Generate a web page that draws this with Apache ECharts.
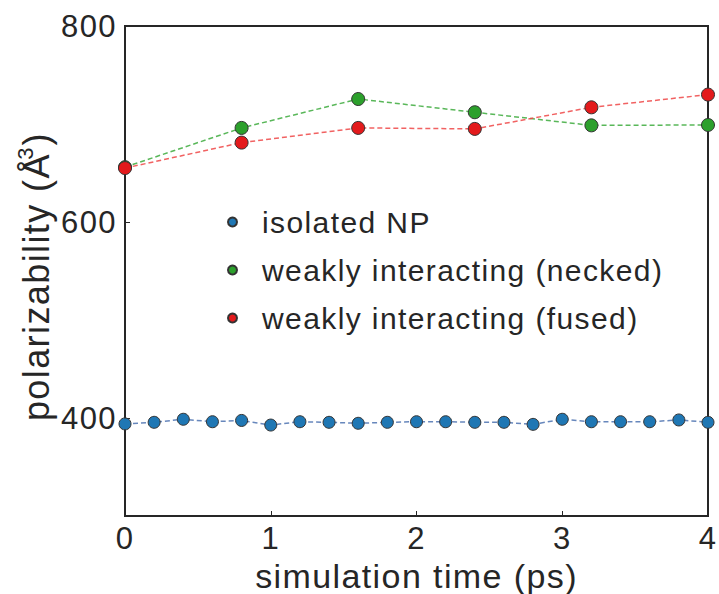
<!DOCTYPE html>
<html>
<head>
<meta charset="utf-8">
<script src="https://cdn.jsdelivr.net/npm/echarts@6/dist/echarts.min.js"></script>
<style>
  html, body { margin: 0; padding: 0; background: #ffffff; }
  #chart { width: 719px; height: 594px; }
  #chart text { letter-spacing: 1.4px; }
</style>
</head>
<body>
<div id="chart"></div>
<script>
// Simulation times (ps)
const timesIsolated = [0, 0.2, 0.4, 0.6, 0.8, 1.0, 1.2, 1.4, 1.6, 1.8, 2.0, 2.2, 2.4, 2.6, 2.8, 3.0, 3.2, 3.4, 3.6, 3.8, 4.0];
const timesPairs = [0, 0.8, 1.6, 2.4, 3.2, 4.0];

// Polarizability (Å^3)
const isolatedNP = [394, 395.6, 398.7, 396.2, 397.5, 392.8, 396.2, 395.6, 394.6, 395.6, 396.2, 396.2, 395.6, 395.6, 393.5, 398.7, 396.2, 396.2, 396.2, 398, 395.6];
const neckedPair = [656, 696, 725.5, 712, 698.6, 699];
const fusedPair = [655, 681, 696, 695, 717, 730];

const seriesNames = ['isolated NP', 'weakly interacting (necked)', 'weakly interacting (fused)'];
const yTicks = [400, 600, 800];

const ink = '#262626';
const font = '"Liberation Sans", Arial, sans-serif';

function pairs(xs, ys) { return xs.map((x, i) => [x, ys[i]]); }

function lineSeries(name, xs, ys, color, lineColor, size) {
  return {
    name: name,
    type: 'line',
    data: pairs(xs, ys),
    symbol: 'circle',
    symbolSize: size,
    itemStyle: { color: color, borderColor: '#333333', borderWidth: 1 },
    lineStyle: { color: lineColor, width: 1.5, type: [5, 3] },
    emphasis: { disabled: true },
    animation: false
  };
}

const chart = echarts.init(document.getElementById('chart'), null, { renderer: 'svg' });
chart.setOption({
  backgroundColor: '#ffffff',
  textStyle: { fontFamily: font },
  grid: {
    left: 125, right: 11, top: 26, bottom: 78,
    outerBoundsMode: 'none',
    show: true, borderColor: ink, borderWidth: 2, backgroundColor: 'transparent'
  },
  legend: {
    data: seriesNames,
    orient: 'vertical',
    left: 227,
    top: 204,
    padding: 0,
    icon: 'circle',
    itemWidth: 9,
    itemHeight: 9,
    itemGap: 12,
    selectedMode: false,
    textStyle: { fontSize: 30, color: ink, fontFamily: font, padding: [0, 0, 0, 20], lineHeight: 36 }
  },
  xAxis: {
    type: 'value',
    min: 0,
    max: 4,
    interval: 1,
    name: 'simulation time (ps)',
    nameLocation: 'middle',
    nameGap: 37,
    nameTextStyle: { fontSize: 34, lineHeight: 34, color: ink, fontFamily: font },
    axisLine: { show: true, lineStyle: { color: ink, width: 2 } },
    axisTick: { show: true, inside: true, length: 5, lineStyle: { color: ink, width: 1 } },
    axisLabel: { fontSize: 31, color: ink, fontFamily: font, margin: 7 },
    splitLine: { show: false }
  },
  yAxis: {
    type: 'value',
    min: 300,
    max: 800,
    name: '{b|polarizability (Å}{sup|3}{b|)}',
    nameLocation: 'middle',
    nameRotate: 90,
    nameGap: 62,
    nameTextStyle: {
      fontSize: 36, color: ink, fontFamily: font,
      rich: {
        b: { fontSize: 36, color: ink, fontFamily: font, verticalAlign: 'bottom' },
        sup: { fontSize: 22, color: ink, fontFamily: font, verticalAlign: 'bottom', padding: [0, 2, 18, 6] }
      }
    },
    axisLine: { show: true, lineStyle: { color: ink, width: 2 } },
    axisTick: { show: true, inside: true, length: 5, customValues: yTicks, lineStyle: { color: ink, width: 1 } },
    axisLabel: { fontSize: 31, color: ink, fontFamily: font, margin: 8, customValues: yTicks },
    splitLine: { show: false }
  },
  series: [
    lineSeries(seriesNames[0], timesIsolated, isolatedNP, '#1f77b4', 'rgba(76,114,176,0.85)', 12),
    lineSeries(seriesNames[1], timesPairs, neckedPair, '#2ca02c', 'rgba(60,170,60,0.85)', 13),
    lineSeries(seriesNames[2], timesPairs, fusedPair, '#e31a1c', 'rgba(238,70,70,0.85)', 13)
  ]
});
</script>
</body>
</html>
